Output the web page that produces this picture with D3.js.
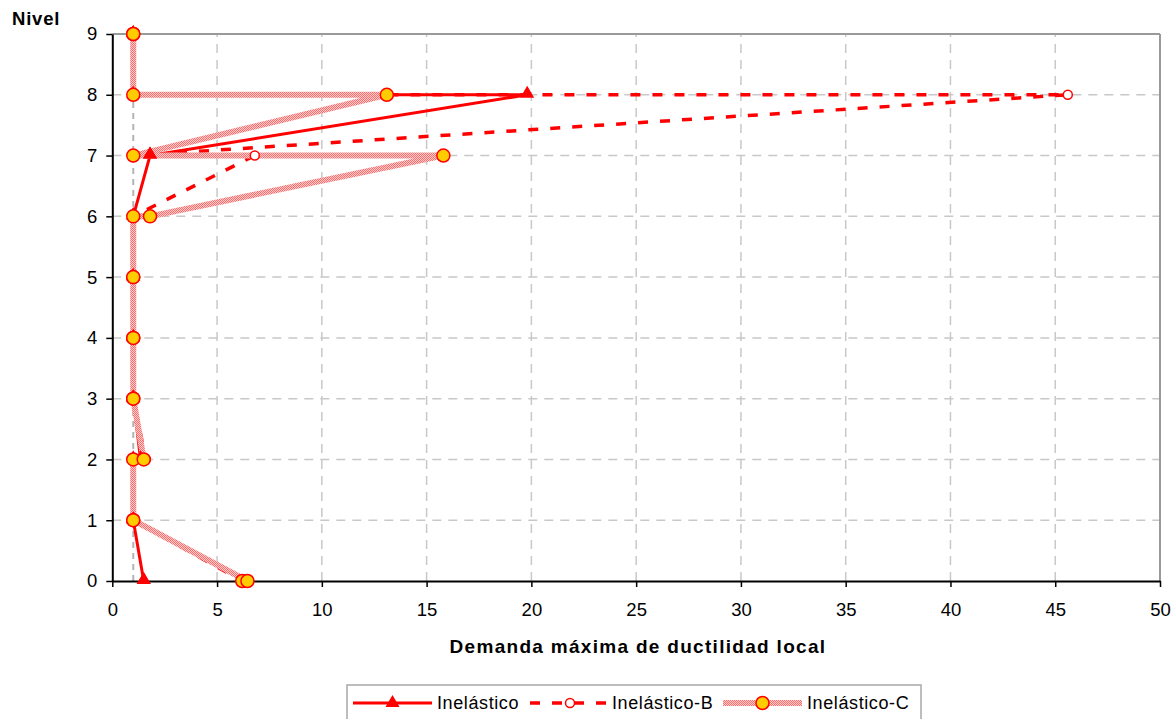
<!DOCTYPE html>
<html><head><meta charset="utf-8">
<script src="https://cdn.jsdelivr.net/npm/d3@7"></script>
<style>
body{margin:0;background:#fff}
svg{display:block;font-family:"Liberation Sans",Arial,sans-serif}
</style>
</head><body>
<svg id="chart" width="1173" height="719"></svg>
<script>
// ---- data ----
const levels = [0, 1, 2, 3, 4, 5, 6, 7, 8, 9];
const seriesNames = ["Inelástico", "Inelástico-B", "Inelástico-C"];
// two values per level (both ends of the element)
const inelasticoI  = [1.5, 1.0, 1.0, 1.0, 1.0, 1.0, 1.0, 1.8, 19.8, 1.0];
const inelasticoJ  = [1.5, 1.0, 1.35, 1.0, 1.0, 1.0, 1.0, 1.8, 1.0, 1.0];
const inelasticoBI = [6.4, 1.0, 1.0, 1.0, 1.0, 1.0, 1.0, 6.8, 45.6, 1.0];
const inelasticoBJ = [6.2, 1.0, 1.6, 1.0, 1.0, 1.0, 1.0, 1.0, 1.0, 1.0];
const inelasticoCI = [6.2, 1.0, 1.0, 1.0, 1.0, 1.0, 1.0, 15.8, 13.1, 1.0];
const inelasticoCJ = [6.45, 1.0, 1.5, 1.0, 1.0, 1.0, 1.8, 1.0, 1.0, 1.0];
const xTicks = [0, 5, 10, 15, 20, 25, 30, 35, 40, 45, 50];
const yTicks = [0, 1, 2, 3, 4, 5, 6, 7, 8, 9];
const refDuctility = [1];
const xTitle = "Demanda máxima de ductilidad local";
const yTitle = "Nivel";

// ---- setup ----
const svg = d3.select("#chart");
svg.append("rect").attr("width", 1173).attr("height", 719).attr("fill", "#fff");

const defs = svg.append("defs");
const pat = defs.append("pattern").attr("id", "hatch").attr("patternUnits", "userSpaceOnUse")
  .attr("width", 2).attr("height", 2);
pat.append("rect").attr("width", 2).attr("height", 2).attr("fill", "#ffd0d0");
pat.append("rect").attr("x", 0).attr("y", 0).attr("width", 1).attr("height", 1).attr("fill", "#ff6a6a");
pat.append("rect").attr("x", 1).attr("y", 1).attr("width", 1).attr("height", 1).attr("fill", "#ff6a6a");

const x = d3.scaleLinear().domain([0, 50]).range([112.3, 1160]);
const y = d3.scaleLinear().domain([0, 9]).range([581, 34]);

const toPts = (I, J) => levels.flatMap((lv, k) => [{x: I[k], y: lv}, {x: J[k], y: lv}]);
const series = [
  {name: seriesNames[0], pts: toPts(inelasticoI, inelasticoJ)},
  {name: seriesNames[1], pts: toPts(inelasticoBI, inelasticoBJ)},
  {name: seriesNames[2], pts: toPts(inelasticoCI, inelasticoCJ)}
];

// ---- grid ----
const grid = svg.append("g");
grid.selectAll(".vg").data(xTicks.filter(v => v > 0 && v < 50)).join("line")
  .attr("x1", d => x(d)).attr("x2", d => x(d)).attr("y1", y(0)).attr("y2", y(9))
  .attr("stroke", "#c8c8c8").attr("stroke-width", 1.5).attr("stroke-dasharray", "9,7");
grid.selectAll(".hg").data(yTicks.filter(v => v > 0 && v < 9)).join("line")
  .attr("x1", x(0)).attr("x2", x(50)).attr("y1", d => y(d)).attr("y2", d => y(d))
  .attr("stroke", "#c8c8c8").attr("stroke-width", 1.5).attr("stroke-dasharray", "9,7");
// reference line ductility = 1
grid.selectAll(".ref").data(refDuctility).join("line")
  .attr("x1", d => x(d)).attr("x2", d => x(d)).attr("y1", y(0)).attr("y2", y(9))
  .attr("stroke", "#b4b4b4").attr("stroke-width", 2).attr("stroke-dasharray", "6,5");

// borders (top/right)
svg.append("line").attr("x1", x(0)).attr("x2", x(50)).attr("y1", y(9)).attr("y2", y(9))
  .attr("stroke", "#9a9a9a").attr("stroke-width", 2);
svg.append("line").attr("x1", x(50)).attr("x2", x(50)).attr("y1", y(9)).attr("y2", y(0))
  .attr("stroke", "#9a9a9a").attr("stroke-width", 2);

// ---- axes ----
const xAxis = svg.append("g").attr("transform", `translate(0,${y(0)})`)
  .call(d3.axisBottom(x).tickValues(xTicks).tickSize(6).tickPadding(16).tickSizeOuter(0));
const yAxis = svg.append("g").attr("transform", `translate(${x(0)},0)`)
  .call(d3.axisLeft(y).tickValues(yTicks).tickSize(6).tickPadding(9).tickSizeOuter(0));
[xAxis, yAxis].forEach(g => {
  g.attr("font-family", null).attr("font-size", null);
  g.select(".domain").attr("stroke", "#000").attr("stroke-width", 2);
  g.selectAll(".tick line").attr("stroke", "#000").attr("stroke-width", 1.5);
  g.selectAll(".tick text").attr("fill", "#000").style("font-size", "18.5px");
});

// ---- lines ----
const line = d3.line().x(d => x(d.x)).y(d => y(d.y));
const lineStyles = [
  {stroke: "#ff0000", width: 3, dash: null},
  {stroke: "#ff0000", width: 3.5, dash: "10,12"},
  {stroke: "url(#hatch)", width: 6, dash: null}
];
series.forEach((s, i) => {
  svg.append("path").datum(s.pts).attr("d", line).attr("fill", "none")
    .attr("stroke", lineStyles[i].stroke).attr("stroke-width", lineStyles[i].width)
    .attr("stroke-dasharray", lineStyles[i].dash).attr("stroke-linejoin", "round");
});

// ---- markers ----
const tri = d3.symbol().type(d3.symbolTriangle).size(85);
svg.append("g").selectAll("path").data(series[0].pts).join("path")
  .attr("d", tri).attr("transform", d => `translate(${x(d.x)},${y(d.y) - 1})`).attr("fill", "#ff0000");
svg.append("g").selectAll("circle").data(series[1].pts).join("circle")
  .attr("cx", d => x(d.x)).attr("cy", d => y(d.y)).attr("r", 4.5)
  .attr("fill", "#fff").attr("stroke", "#ff0000").attr("stroke-width", 1.5);
svg.append("g").selectAll("circle").data(series[2].pts).join("circle")
  .attr("cx", d => x(d.x)).attr("cy", d => y(d.y)).attr("r", 6.5)
  .attr("fill", "#ffcc00").attr("stroke", "#ff0000").attr("stroke-width", 1.5);

// ---- titles ----
svg.append("text").attr("x", 12).attr("y", 25).text(yTitle)
  .style("font-size", "18.5px").style("font-weight", "bold").style("letter-spacing", "0.8px");
svg.append("text").attr("x", 638).attr("y", 653).attr("text-anchor", "middle").text(xTitle)
  .style("font-size", "19px").style("font-weight", "bold").style("letter-spacing", "1.3px");

// ---- legend ----
const lg = svg.append("g");
lg.append("rect").attr("x", 347).attr("y", 685).attr("width", 574).attr("height", 40)
  .attr("fill", "#fff").attr("stroke", "#a8a8a8").attr("stroke-width", 1.5);
const legItems = [
  {x0: 353, x1: 432, tx: 437},
  {x0: 530, x1: 610, tx: 612},
  {x0: 723, x1: 802, tx: 807}
];
const ly = 703;
legItems.forEach((it, i) => {
  lg.append("line").attr("x1", it.x0).attr("x2", it.x1).attr("y1", ly).attr("y2", ly)
    .attr("stroke", lineStyles[i].stroke).attr("stroke-width", lineStyles[i].width)
    .attr("stroke-dasharray", lineStyles[i].dash);
  const cx = (it.x0 + it.x1) / 2;
  if (i === 0) lg.append("path").attr("d", tri).attr("transform", `translate(${cx},${ly})`).attr("fill", "#ff0000");
  if (i === 1) lg.append("circle").attr("cx", cx).attr("cy", ly).attr("r", 4.5).attr("fill", "#fff").attr("stroke", "#ff0000").attr("stroke-width", 1.5);
  if (i === 2) lg.append("circle").attr("cx", cx).attr("cy", ly).attr("r", 6.5).attr("fill", "#ffcc00").attr("stroke", "#ff0000").attr("stroke-width", 1.5);
  lg.append("text").attr("x", it.tx).attr("y", 708.5).text(seriesNames[i])
    .style("font-size", "18px").style("letter-spacing", "0.6px").attr("fill", "#000");
});
</script>
</body></html>
